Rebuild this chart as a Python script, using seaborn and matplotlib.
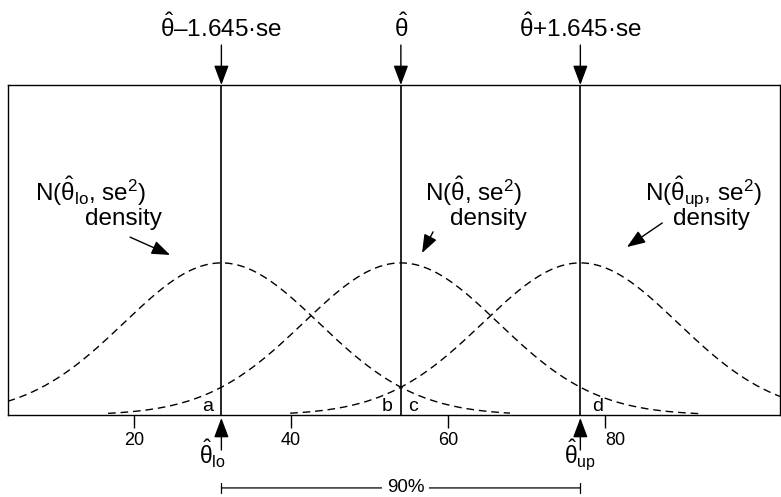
import numpy as np
import pandas as pd
import matplotlib
matplotlib.use("Agg")
import matplotlib.pyplot as plt
import matplotlib.transforms as mtransforms
import seaborn as sns

# ---- data ----
theta_hat = 54.0
se = 13.9                 # interval standard error
z90 = 1.645
density_sd = 12.4         # spread of the drawn density curves
theta_lo = theta_hat - z90 * se
theta_up = theta_hat + z90 * se
curve_names = ["lo", "hat", "up"]
curve_centers = [theta_lo, theta_hat, theta_up]
curve_starts = [3.9, 16.7, 39.9]
curve_ends = [67.9, 92.1, 102.3]
xticks = [20, 40, 60, 80]
xtick_labels = ["20", "40", "60", "80"]
region_letters = ["a", "b", "c", "d"]

rows = []
for name, c, a, b in zip(curve_names, curve_centers, curve_starts, curve_ends):
    xs = np.linspace(a, b, 400)
    ys = np.exp(-0.5 * ((xs - c) / density_sd) ** 2) / (density_sd * np.sqrt(2 * np.pi))
    rows.append(pd.DataFrame({"x": xs, "density": ys, "curve": name}))
df = pd.concat(rows, ignore_index=True)

sns.set_theme(style="white")
plt.rcParams["font.family"] = ["Liberation Sans", "DejaVu Sans"]
plt.rcParams["text.color"] = "black"
plt.rcParams["mathtext.fontset"] = "custom"
plt.rcParams["mathtext.rm"] = "Liberation Sans"
plt.rcParams["mathtext.it"] = "Liberation Sans:italic"
plt.rcParams["mathtext.bf"] = "Liberation Sans:bold"
plt.rcParams["mathtext.default"] = "rm"

fig = plt.figure(figsize=(7.81, 4.97), dpi=100)
ax = fig.add_axes([8 / 781, 82 / 497, 772 / 781, 330 / 497])

sns.lineplot(data=df, x="x", y="density", hue="curve", palette=["black"] * 3,
             legend=False, ax=ax, lw=1.0, linestyle=(0, (5.5, 3.5)))

ax.set_xlim(3.95, 102.3)
ax.set_ylim(0, 0.0698)
ax.set_xlabel("")
ax.set_ylabel("")
ax.set_yticks([])
ax.set_xticks(xticks)
ax.set_xticklabels(xtick_labels)
ax.tick_params(axis="x", direction="out", length=9, width=1, labelsize=13,
               bottom=True, colors="black", pad=3)
for s in ax.spines.values():
    s.set_visible(True)
    s.set_color("black")
    s.set_linewidth(1.0)

# the "80" label sits a little right of its tick in the reference
lbl80 = ax.get_xticklabels()[3]
lbl80.set_transform(lbl80.get_transform() +
                    mtransforms.ScaledTranslation(10 / 100, 0, fig.dpi_scale_trans))

for v in curve_centers:
    ax.axvline(v, color="black", lw=1.2)

trans = mtransforms.blended_transform_factory(ax.transData, ax.transAxes)
hd = dict(arrowstyle="-|>,head_length=0.8,head_width=0.3", color="black",
          lw=1.0, mutation_scale=15, shrinkA=0, shrinkB=0)

# top labels and arrows
top_labels = [r"$\hat{\theta}$–1.645·se", r"$\hat{\theta}$", r"$\hat{\theta}$+1.645·se"]
for v, lab in zip(curve_centers, top_labels):
    ax.annotate("", xy=(v, 1.0), xytext=(v, 1.121), xycoords=trans,
                textcoords=trans, arrowprops=hd, annotation_clip=False)
    ax.text(v, 1.145, lab, transform=trans, ha="center", va="baseline",
            fontsize=17.5, clip_on=False)

# bottom arrows and labels
for v, dx, lab in [(theta_lo, -1.1, r"$\hat{\theta}_{\mathrm{lo}}$"),
                   (theta_up, 0.0, r"$\hat{\theta}_{\mathrm{up}}$")]:
    ax.annotate("", xy=(v, -0.009), xytext=(v, -0.106), xycoords=trans,
                textcoords=trans, arrowprops=hd, annotation_clip=False)
    ax.text(v + dx, -0.068, lab, transform=trans, ha="center", va="top",
            fontsize=16.5, clip_on=False)

# density labels
dens = [
    (7.4, 13.76, r"N($\hat{\theta}_{\mathrm{lo}}$, se$^{2}$)", (19.5, 0.539), (24.6, 0.485)),
    (57.1, 60.3, r"N($\hat{\theta}$, se$^{2}$)", (58.1, 0.555), (56.7, 0.491)),
    (85.1, 88.7, r"N($\hat{\theta}_{\mathrm{up}}$, se$^{2}$)", (87.3, 0.582), (82.8, 0.509)),
]
hd2 = dict(arrowstyle="-|>,head_length=0.8,head_width=0.3", color="black",
           lw=1.0, mutation_scale=14, shrinkA=0, shrinkB=0)
for x1, x2, lab, p0, p1 in dens:
    ax.text(x1, 0.650, lab, transform=trans, ha="left", va="baseline", fontsize=17.5)
    ax.text(x2, 0.576, "density", transform=trans, ha="left", va="baseline", fontsize=17.5)
    ax.annotate("", xy=p1, xytext=p0, xycoords=trans, textcoords=trans, arrowprops=hd2)

# region letters
letter_pos = [(theta_lo - 1.0, "right"), (theta_hat - 1.0, "right"),
              (theta_hat + 0.9, "left"), (theta_up + 1.5, "left")]
for (x, ha), t in zip(letter_pos, region_letters):
    ax.text(x, 0.012, t, transform=trans, ha=ha, va="baseline", fontsize=14)

# 90% bracket
ax.annotate("", xy=(theta_up, -0.221), xytext=(theta_lo, -0.221), xycoords=trans,
            textcoords=trans, annotation_clip=False,
            arrowprops=dict(arrowstyle="|-|,widthA=0.25,widthB=0.25", color="black",
                            lw=0.9, shrinkA=0, shrinkB=0, mutation_scale=15))
ax.text(theta_hat + 0.6, -0.221, "90%", transform=trans, ha="center", va="center",
        fontsize=13.5, clip_on=False,
        bbox=dict(boxstyle="square,pad=0.25", fc="white", ec="none"))

fig.savefig("out.png", dpi=100)
